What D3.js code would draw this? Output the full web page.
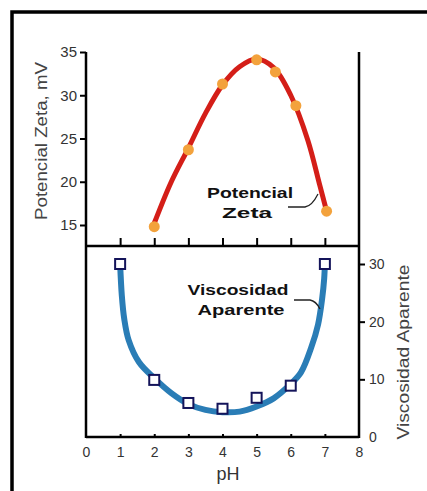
<!DOCTYPE html>
<html>
<head>
<meta charset="utf-8">
<script src="https://cdn.jsdelivr.net/npm/d3@7"></script>
<style>
  body { margin: 0; background: #fff; }
  svg { display: block; }
  text { font-family: "Liberation Sans", Arial, sans-serif; }
</style>
</head>
<body>
<div id="chart"></div>
<script>
// pH ticks
const phTicks = [0, 1, 2, 3, 4, 5, 6, 7, 8];
const zetaTicks = [15, 20, 25, 30, 35];
const viscTicks = [0, 10, 20, 30];

// measured points (pH, value)
const zetaPoints = [[2, 14.8], [3, 23.7], [4, 31.3], [5, 34.1], [5.55, 32.7], [6.15, 28.8], [7.05, 16.6]];
const viscPoints = [[1, 30], [2, 9.9], [3, 5.9], [4, 4.9], [5, 6.8], [6, 8.9], [7, 30]];

// fitted curves
const zetaCurve = [[2, 15.2], [2.5, 20.0], [3, 23.9], [3.5, 27.9], [4, 31.2], [4.5, 33.3], [5, 34.2],
  [5.5, 33.2], [6, 30.0], [6.5, 24.8], [6.85, 19.6], [7.05, 16.6]];
const viscCurve = [[1, 30], [1.05, 24.5], [1.12, 20.5], [1.25, 16.8], [1.55, 13.0], [2, 10.2], [2.5, 7.6],
  [3, 5.7], [3.5, 4.7], [4, 4.3], [4.5, 4.4], [5, 5.3], [5.5, 6.7], [6, 9.2], [6.3, 11.2], [6.6, 15.5],
  [6.8, 19.5], [6.92, 24.0], [6.98, 27.5], [7, 30]];

const width = 427, height = 491;
const pLeft = 86, pRight = 359, pTop = 52, pMid = 246, pBottom = 437;

const svg = d3.select("#chart").append("svg")
  .attr("width", width)
  .attr("height", height);

// outer frame (runs off the right and bottom)
svg.append("rect")
  .attr("x", 12).attr("y", 12)
  .attr("width", 440).attr("height", 500)
  .attr("fill", "none")
  .attr("stroke", "#000")
  .attr("stroke-width", 3.5);

const x = d3.scaleLinear().domain([0, 8]).range([pLeft, pRight]);
const yZeta = d3.scaleLinear().domain([15, 35]).range([225, pTop]);
const yVisc = d3.scaleLinear().domain([0, 30]).range([pBottom, 264]);

// frame of the plot
const frame = svg.append("g").attr("stroke", "#000").attr("stroke-width", 2.5);
frame.append("line").attr("x1", pLeft).attr("x2", pLeft).attr("y1", pTop).attr("y2", pBottom + 1);
frame.append("line").attr("x1", pRight).attr("x2", pRight).attr("y1", pTop).attr("y2", pBottom + 1);
frame.append("line").attr("x1", pLeft).attr("x2", pRight).attr("y1", pMid).attr("y2", pMid);
frame.append("line").attr("x1", pLeft).attr("x2", pRight).attr("y1", pBottom).attr("y2", pBottom);

// ticks on separator (upward)
svg.append("g")
  .attr("transform", `translate(0,${pMid})`)
  .call(d3.axisTop(x).tickValues([1, 2, 3, 4, 5, 6, 7]).tickSize(8).tickFormat(""))
  .call(g => g.select(".domain").remove())
  .call(g => g.selectAll("line").attr("stroke-width", 2));

// bottom axis
svg.append("g")
  .attr("transform", `translate(0,${pBottom})`)
  .call(d3.axisBottom(x).tickValues(phTicks).tickSize(0).tickPadding(10))
  .call(g => g.select(".domain").remove())
  .call(g => g.selectAll("text").attr("font-size", 14).attr("fill", "#333"));
svg.append("g")
  .attr("transform", `translate(0,${pBottom})`)
  .call(d3.axisTop(x).tickValues([1, 2, 3, 4, 5, 6, 7]).tickSize(3).tickFormat(""))
  .call(g => g.select(".domain").remove())
  .call(g => g.selectAll("line").attr("stroke-width", 2));

// left axis (zeta)
svg.append("g")
  .attr("transform", `translate(${pLeft},0)`)
  .call(d3.axisLeft(yZeta).tickValues(zetaTicks).tickSize(6).tickPadding(3))
  .call(g => g.select(".domain").remove())
  .call(g => g.selectAll("line").attr("stroke-width", 2))
  .call(g => g.selectAll("text").attr("font-size", 15).attr("fill", "#333"));

// right axis (viscosity)
svg.append("g")
  .attr("transform", `translate(${pRight},0)`)
  .call(d3.axisRight(yVisc).tickValues(viscTicks).tickSize(6).tickPadding(4))
  .call(g => g.select(".domain").remove())
  .call(g => g.selectAll("line").attr("stroke-width", 2))
  .call(g => g.selectAll(".tick").filter(d => d === 0).select("line").remove())
  .call(g => g.selectAll("text").attr("font-size", 14).attr("fill", "#333"));

// axis titles
svg.append("text")
  .attr("transform", "translate(47,141) rotate(-90)")
  .attr("text-anchor", "middle")
  .attr("font-size", 16)
  .attr("fill", "#444")
  .attr("textLength", 158)
  .attr("lengthAdjust", "spacingAndGlyphs")
  .text("Potencial Zeta, mV");

svg.append("text")
  .attr("transform", "translate(409,352) rotate(-90)")
  .attr("text-anchor", "middle")
  .attr("font-size", 16)
  .attr("fill", "#444")
  .attr("textLength", 175)
  .attr("lengthAdjust", "spacingAndGlyphs")
  .text("Viscosidad Aparente");

svg.append("text")
  .attr("x", 228).attr("y", 480)
  .attr("text-anchor", "middle")
  .attr("font-size", 18)
  .attr("fill", "#333")
  .text("pH");

// zeta curve
const line = d3.line().curve(d3.curveCatmullRom);
svg.append("path")
  .datum(zetaCurve.map(d => [x(d[0]), yZeta(d[1])]))
  .attr("d", line)
  .attr("fill", "none")
  .attr("stroke", "#d41e18")
  .attr("stroke-width", 5);

svg.append("g").selectAll("circle")
  .data(zetaPoints)
  .join("circle")
  .attr("cx", d => x(d[0]))
  .attr("cy", d => yZeta(d[1]))
  .attr("r", 5.5)
  .attr("fill", "#f3a23c");

// viscosity curve
svg.append("path")
  .datum(viscCurve.map(d => [x(d[0]), yVisc(d[1])]))
  .attr("d", line)
  .attr("fill", "none")
  .attr("stroke", "#2a7db6")
  .attr("stroke-width", 6);

svg.append("g").selectAll("rect")
  .data(viscPoints)
  .join("rect")
  .attr("x", d => x(d[0]) - 5)
  .attr("y", d => yVisc(d[1]) - 5)
  .attr("width", 10)
  .attr("height", 10)
  .attr("fill", "#fff")
  .attr("stroke", "#14145a")
  .attr("stroke-width", 2);

// labels and leaders
const lab = svg.append("g")
  .attr("font-family", "'DejaVu Sans', sans-serif")
  .attr("font-weight", "bold")
  .attr("font-size", 15)
  .attr("fill", "#111");
lab.append("text").attr("x", 250).attr("y", 198).attr("text-anchor", "middle")
  .attr("textLength", 86).attr("lengthAdjust", "spacingAndGlyphs").text("Potencial");
lab.append("text").attr("x", 247).attr("y", 218).attr("text-anchor", "middle")
  .attr("textLength", 50).attr("lengthAdjust", "spacingAndGlyphs").text("Zeta");
lab.append("text").attr("x", 238).attr("y", 295).attr("text-anchor", "middle")
  .attr("textLength", 101).attr("lengthAdjust", "spacingAndGlyphs").text("Viscosidad");
lab.append("text").attr("x", 241).attr("y", 315).attr("text-anchor", "middle")
  .attr("textLength", 87).attr("lengthAdjust", "spacingAndGlyphs").text("Aparente");

svg.append("path")
  .attr("d", "M288,207 L305,207 Q312,206 318,194")
  .attr("fill", "none").attr("stroke", "#222").attr("stroke-width", 1.3);
svg.append("path")
  .attr("d", "M294,300 L310,300 Q316,301 320,309")
  .attr("fill", "none").attr("stroke", "#222").attr("stroke-width", 1.3);
</script>
</body>
</html>
